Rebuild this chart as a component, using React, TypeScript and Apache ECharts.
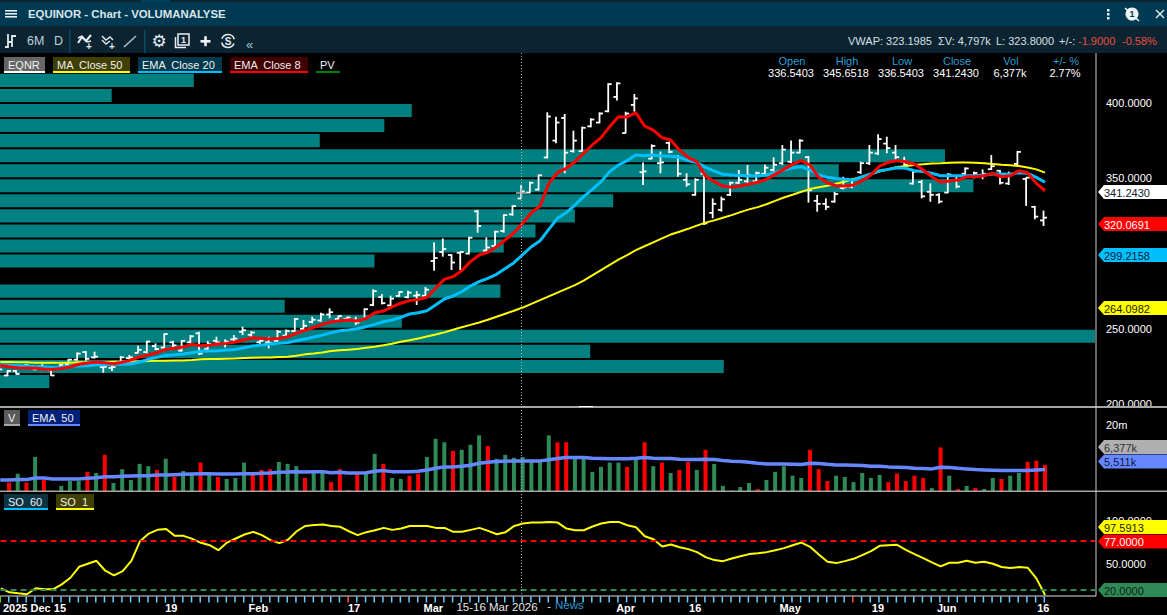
import React, { useEffect, useRef } from "react";
import * as echarts from "echarts";

// Daily bars. Index 0 is the partly visible first session at the left edge.
const opens = [221.5,
  219,222,224,224.5,225,222.5,224.5,226.5,229.5,234.5,
  231,224.5,224,226.5,230.5,234,234.5,238.5,237.5,241,
  235.5,241,247,236.5,242,240,243,248,246,241,
  241,242,245.5,248.5,250,254.5,255.5,259.5,256.5,256.5,
  256,256.5,265.8,271,265.5,271.8,271,272,272,295,
  301,299,300.5,300,328,302,305,315,326,336.5403,
  340.5,342.5,363.8,375,390,368,368,384.5,387,394.5,
  404,380,398.7,354,363,360,373.5,364,349,339,
  353,327,329,339,347,348,348,353,355.5,360,
  361,367,364,335,333,334.5,343.5,344.5,354,360,
  366.5,373,367,361,346.5,347.5,341,339,340.5,349,
  353,351,352,356,355,346.5,359.5,349.5,331,322];
const highs = [224,
  222.5,222.5,226.5,225,226.5,223,226.3,230,234.3,235.2,
  234.8,225.9,225.9,231.9,232.6,238.8,242,240.3,247,242,
  242.5,245.8,248.1,242,244.7,243,245.8,251.4,248.5,243.6,
  244.7,249.2,249.6,257,255.8,258,260.7,263.6,258.7,258,
  258,263.6,276.2,273,272,275,275.3,275,277.7,307.4,
  310,299.5,301.2,311.2,328.9,310.7,315.2,326,332,345.6518,
  347.7,352.4,393.8,390.9,392.7,381.6,384.3,389.8,393.8,413.1,
  413.7,394.2,406,360.4,372.5,367.7,374.3,365.4,353.3,350,
  354.4,336.6,337.8,347.7,355.5,358.8,354.4,359.2,363.9,372.1,
  375,375.9,364.8,338.9,336.6,341,351,349.9,361,372.1,
  379.2,377.6,372.1,364.3,355.5,348.8,346.6,340,353.3,351,
  357.2,354.4,355.9,365.4,355.5,354.4,368.1,350.6,331.6,328.5];
const lows = [221,
  218.5,219.5,223.5,222.5,222.6,218.6,224.3,226,228.8,228.8,
  230.3,220.8,221.9,226,229.2,233.7,233.7,235.9,237,237.6,
  234.8,240.3,232.5,235.9,239.2,237.6,241.4,245.8,244.7,239.2,
  237,241.4,244.7,248,249.2,253.6,254.7,257,255.8,255.8,
  252.5,255.8,265.1,266.2,264.7,271.3,270.2,265.8,271.5,288.6,
  297.9,289,289,299.4,313.8,301.2,304.5,313.8,325.1,336.5403,
  340,341.8,363.2,373.2,353.3,367,367.7,383.8,386.5,393.8,
  401.6,379.8,394.2,345.5,362.6,353.3,366.6,351,344.4,338.4,
  318.9,323.4,327.8,338.2,346.2,346.6,346.6,352.2,354.4,358.8,
  359.9,366.6,333.8,327.8,328.9,333.8,342.6,343.3,352.8,358.8,
  365.4,366.6,362.6,357.7,345.9,336.6,334.4,333.3,340,343.3,
  352.2,349.9,349.3,355.5,345.9,345.5,358.8,331.6,322.7,318.3];
const closes = [223,
  222,220,226,223,223.5,219,226,229.5,233.5,230,
  231.5,224.7,224.5,231,231,236,241.5,236.5,246.5,239,
  242,245,233.5,240,241,241.5,243.5,249,247.5,242,
  240.5,248,248.5,256.5,252,256,259.5,261,258.5,257.5,
  254,263,275,267,270,274.5,274,272.5,276,297,
  303,294,301,310.5,318.3,304,314.5,325.5,331.5,341.243,
  347,352,391,387,367,375,383.5,389,393,412.5,
  413,393,403,354.5,371.5,360.5,367.5,353,346,349,
  320,333,336,347,349,352,353.5,357,359,369,
  367,375,342,333,331,339.5,344,345.5,360,367,
  376,370,364,359,354.4,338,339,334.5,352.5,344.5,
  356.5,353.5,353,358,347,352,367.5,350.4,324.5,323.8];

const volumes = [null,
  2560,3520,2560,6370,2810,1915,2270,2700,2700,3750,
  3600,6890,2520,4130,2810,4990,4590,4020,5990,3120,
  3870,3520,5220,3360,3120,2910,3020,5220,3360,4020,
  4130,5350,4990,4590,3020,3750,3600,2600,4130,1960,
  3750,3520,7130,4990,3020,2910,3270,3520,6370,12200,
  10800,7950,8250,9880,13800,9470,5990,6890,6180,6377,
  5760,5350,13800,10800,10800,6180,5990,3750,4480,5220,
  5220,4480,5760,10800,4590,5220,3600,4020,5350,4020,
  8250,4990,2270,1915,2180,2520,2030,2810,3750,4590,
  3270,3020,8250,4130,2700,3270,3120,2600,3600,3020,
  3360,2600,3520,2700,3270,3020,2100,8980,3270,2030,
  2270,2100,2030,3020,2910,3270,3600,5350,5590,4810];
// 1 = red session in the volume panel, 0 = green
const volumeDown = [0,
  1,0,1,0,1,0,0,0,0,1,
  0,1,0,0,0,0,0,1,0,1,
  0,0,1,0,1,0,0,0,1,1,
  1,0,0,0,1,0,0,1,1,1,
  1,0,0,1,0,0,1,1,0,0,
  0,1,0,0,0,1,0,0,0,0,
  0,0,0,1,1,0,0,0,0,0,
  0,1,0,1,0,1,0,1,1,0,
  1,0,0,0,0,0,1,0,0,0,
  0,0,1,1,1,0,0,0,0,0,
  0,1,1,1,1,1,0,1,0,1,
  0,1,0,0,1,0,0,1,1,1];

const ema8 = [225.6,
  224.8,224.1,223.9,223.7,223.2,223,223.7,224.6,226.4,227.2,
  227.9,227.5,226.8,227.7,229.2,231.4,232.6,234.1,236.3,237,
  237.9,239.6,238.8,239,239.9,240.3,241.2,242.7,244,243.6,
  243.2,243.6,244.7,247,248.9,251,252.9,254.5,255.4,255.8,
  255.2,256.9,260.7,261.8,264.5,267,268.7,269.5,270.9,276.9,
  282.8,284.6,288.6,294.6,299,300.8,304.5,309,313.8,320.0691,
  327.1,331.6,346.6,353.7,356.6,361,366.6,372.1,377,384.3,
  390.9,390.7,393.6,384.7,382,377,375.4,368.8,363.9,361,
  351.5,347.7,344.8,344,344.8,346.2,347.3,349.3,352.6,355.9,
  359.2,361.7,358.8,350.6,347,345,344.8,345.5,348.4,352.2,
  358.1,360.6,361.7,361,359.5,355.5,351,347.5,348.2,348.8,
  351,351,351.7,353.3,351,351.7,355,353.7,346.6,341.7];
const ema20 = [225.9,
  225.7,225.5,225.3,224.8,224.6,224.1,224.4,225.3,225.3,225.5,
  226.1,226.1,226.4,226.4,226.6,227.9,229.7,231,232.3,232.8,
  233.2,234.1,235,235.2,235.4,235.9,236.3,237.4,238.5,239.2,
  239.9,240.3,240.8,242.1,243.2,244.5,245.8,247.4,248.7,249.2,
  250,251.4,252.9,254.7,255.8,257.6,259.8,260.7,262,265.8,
  269.8,271.8,274.6,278.4,281.3,283.5,286.2,290,293.9,299.2158,
  304.5,308.5,316,323.4,327.1,332.2,337.8,342.6,347.7,354.4,
  358.8,361.7,365.4,365,365.4,364.8,364.6,363.9,361.7,360.4,
  357.2,354.8,352.6,352.2,351.9,351.5,351.5,352.2,353.7,355.5,
  357,357.7,355.5,352.2,350.6,349.9,349.3,348.8,351,352.8,
  355,355.9,357,356.6,355,354.4,353.3,351.7,351.7,351.7,
  351.7,351.9,352.2,352.8,352.8,352.6,353.7,353.3,350.6,347.3];
const ma50 = [228,
  227.9,227.8,227.7,227.5,227.5,227.5,227.5,227.5,227.7,227.7,
  227.9,227.9,228.1,228.1,228.3,228.3,228.6,228.8,228.8,229,
  229,229.2,229.7,229.9,229.9,230.1,230.3,230.6,230.8,231,
  231,231.2,231.4,232.1,233,233.6,234.3,235.2,235.7,236.1,
  236.5,237.4,238.1,239,240.1,241.4,242.4,243.6,244.9,246.2,
  247.6,249.3,251,252.6,254.2,256,258,260,262,264.0982,
  266.5,269,271.5,274,276.5,279,282,285.5,289,292.5,
  296,299,302.3,304.8,307.4,310,312.6,314.5,316.4,318.5,
  320.5,322,323.8,325.5,327.5,329.3,330.8,332.7,335,337.2,
  339,341,342.8,344,345,346.3,347.8,349.5,351,352.8,
  354.5,356,357.5,358.2,358.8,359.3,359.8,360,360.3,360.4,
  360.4,360.3,360,359.5,359,358.7,358.1,357.2,355.9,353.7];
const volumeEma = [2810,
  2810,2843,2843,3015,3015,2910,2910,2910,2910,2980,
  3050,3160,3160,3198,3235,3270,3270,3350,3350,3390,
  3430,3470,3510,3510,3470,3470,3470,3510,3510,3553,
  3595,3685,3730,3780,3730,3780,3780,3640,3685,3595,
  3595,3640,3825,3920,3780,3780,3780,3825,4020,4270,
  4480,4480,4590,4760,5100,5290,5420,5490,5550,5511,
  5550,5550,5760,6040,6260,6260,6260,6110,6040,5970,
  5970,5970,6110,6260,6110,6040,6040,5900,5830,5830,
  5900,5830,5620,5490,5420,5290,5100,4980,4980,4980,
  4920,4860,5100,5040,4920,4810,4810,4760,4700,4590,
  4590,4480,4430,4380,4270,4220,4170,4430,4380,4270,
  4170,4070,4020,3970,3920,3920,3920,3920,4020,4070];
const stochastic = [21.9,
  17.3,16.1,15,22,20.8,20.8,26.6,34.3,47.1,50.6,
  54.1,42.5,37,42,54.1,77,85.9,90.2,91.3,83.2,
  83.2,79.7,75.1,72.3,66.5,75.4,80.1,84.8,87.9,84,
  78.2,74.7,78.6,88.6,94.8,96,96.4,94.8,93.7,88.6,
  84,87.5,89.8,92.5,90.2,91.7,94.8,94.8,94.8,92.5,
  92.5,87.9,87.9,90.2,92.5,89,85.1,87.5,94.8,97.5913,
  98.7,98.7,99.5,98.7,91.7,89.8,89.8,94.1,97.6,99.5,
  99.5,95.6,93.3,82.8,79.3,70.8,73.1,70,67.7,64.2,
  58.4,54.9,53.7,56.8,59.5,61.9,63,64.2,66.5,68.9,
  72.3,75.4,70.4,61.5,53,51.4,53.7,56.4,60.7,65.4,
  71.6,72.3,72.7,66.9,61.9,57.2,52.2,47.5,51.8,51.8,
  54.1,51.8,53,50.6,46.8,45.6,46.8,46,33.6,14.2];

// Volume profile: price bins (centre) and share of the longest bin, percent
const profilePrices = [415,405,395,385,375,365,355,345,335,325,315,305,295,285,275,265,255,245,235,225,215];
const profileShares = [17.7,10.2,37.6,35.1,29.2,86.3,76.6,88.9,56,52.5,48.9,46,34.2,0,45.7,26,36.7,100,53.9,66.1,4.5];

const dateLabelIndex = [3.87,19.6,29.6,40.6,49.7,71.8,79.8,90.7,100.8,108.7,119.8];
const dateLabelText = ["2025 Dec 15","19","Feb","17","Mar","Apr","16","May","19","Jun","16"];
const priceTicks = [200,250,350,400];
const volumeTicks = [20000];
const oscillatorTicks = [50,100];
const flaggedDayTicks: Record<number,string> = { 0: "#7CFC00", 40: "#ff5a4a", 98: "#ff5a4a" };

const FONT = "Liberation Sans";
const X_MIN = -0.034;
const X_MAX = 125.74;
const hiddenX = (gridIndex: number) => ({
  type: "value" as const, gridIndex, min: X_MIN, max: X_MAX, show: false,
});

function t(x: number, y: number, text: string, fill = "#fff", font = `11px ${FONT}`, align = "left", z = 120) {
  return { type: "text", x, y, z, silent: true, style: { text, fill, font, align, verticalAlign: "middle" } };
}
function r(x: number, y: number, width: number, height: number, fill: string, z = 110) {
  return { type: "rect", z, silent: true, shape: { x, y, width, height }, style: { fill } };
}
function pl(points: number[][], stroke = "#dfe9ee", lineWidth = 1.6, z = 120) {
  return { type: "polyline", z, silent: true, shape: { points }, style: { stroke, lineWidth, fill: "none" } };
}
function legendChip(x: number, w: number, y: number, label: string, bg: string, line: string) {
  return [r(x, y, w, 15.5, bg), r(x, y + 14, w, 2, line, 111), t(x + 4, y + 7.5, label, "#f0f0f0", `11px ${FONT}`)];
}
function tag(y: number, label: string, bg: string, fg: string) {
  return [
    { type: "polygon", z: 130, silent: true, shape: { points: [[1098, y], [1104, y - 7], [1167, y - 7], [1167, y + 7], [1104, y + 7]] }, style: { fill: bg } },
    t(1104, y + 0.5, label, fg, `11px ${FONT}`, "left", 131),
  ];
}

function chrome(): any[] {
  const a: any[] = [];
  // title + tool bars
  a.push(r(0, 0, 1167, 2, "#0b2533"), r(141, 0, 29, 2, "#00405a"));
  a.push(r(0, 2, 1167, 24, "#003a52"), r(0, 26, 1167, 27, "#0c2331"));
  a.push(r(5, 10, 12, 1.6, "#e8f0f4"), r(5, 13, 12, 1.6, "#e8f0f4"), r(5, 16, 12, 1.6, "#e8f0f4"));
  a.push(t(28, 13.5, "EQUINOR - Chart - VOLUMANALYSE", "#d8e6ec", `bold 11.4px ${FONT}`));
  // right title icons
  a.push(r(1107, 9, 2.5, 2.5, "#e8f0f4"), r(1107, 13, 2.5, 2.5, "#e8f0f4"), r(1107, 17, 2.5, 2.5, "#e8f0f4"));
  a.push({ type: "circle", z: 120, silent: true, shape: { cx: 1132, cy: 14, r: 6.5 }, style: { fill: "#eef4f6" } });
  a.push(pl([[1125, 8], [1139, 21]], "#eef4f6", 1.6));
  a.push(t(1132, 14, "1", "#003a52", `bold 9px ${FONT}`, "center", 121));
  a.push(pl([[1156, 10], [1164, 18]], "#dfe9ee", 1.5), pl([[1164, 10], [1156, 18]], "#dfe9ee", 1.5));
  // tool bar icons
  a.push(pl([[5, 47], [8, 47], [8, 34], [8, 42], [12, 42], [12, 36], [16, 36], [12, 36], [12, 47]], "#dfe9ee", 1.8));
  a.push(t(27, 41, "6M", "#b9d2de", `12.5px ${FONT}`), t(54, 41, "D", "#b9d2de", `12.5px ${FONT}`));
  a.push(r(69, 30, 1.5, 23, "#0a4a68", 115), r(144, 30, 1.5, 23, "#0a4a68", 115));
  a.push(pl([[78, 43], [82, 37], [86, 41], [91, 35]], "#e6eef2", 2), pl([[78, 38], [82, 36], [87, 42], [91, 41]], "#e6eef2", 1.4));
  a.push(t(89, 46, "+", "#e6eef2", `bold 10px ${FONT}`, "center"));
  a.push(pl([[102, 36], [106, 40], [110, 37], [113, 40]], "#dfe9ee", 1.4), pl([[102, 40], [106, 44], [110, 41]], "#dfe9ee", 1.4));
  a.push(t(112, 46, "+", "#e6eef2", `bold 10px ${FONT}`, "center"));
  a.push(pl([[124, 47], [136, 36]], "#aebcc4", 1.6));
  a.push(t(159, 41, "⚙", "#e6eef2", "17px DejaVu Sans", "center"));
  a.push({ type: "rect", z: 120, silent: true, shape: { x: 178, y: 34, width: 11, height: 11 }, style: { fill: "none", stroke: "#e6eef2", lineWidth: 1.5 } });
  a.push(pl([[175.5, 37], [175.5, 47.5], [186, 47.5]], "#e6eef2", 1.5));
  a.push(t(183.5, 39.5, "1", "#e6eef2", `bold 9px ${FONT}`, "center"));
  a.push(r(200.5, 40, 10, 2.6, "#f0f4f6"), r(204.2, 36.2, 2.6, 10, "#f0f4f6"));
  a.push({ type: "arc", z: 120, silent: true, shape: { cx: 228, cy: 41, r: 6.5, startAngle: 0.4, endAngle: 2.9 }, style: { stroke: "#e6eef2", lineWidth: 1.6, fill: "none" } });
  a.push({ type: "arc", z: 120, silent: true, shape: { cx: 228, cy: 41, r: 6.5, startAngle: 3.5, endAngle: 6 }, style: { stroke: "#e6eef2", lineWidth: 1.6, fill: "none" } });
  a.push(t(228, 41.5, "S", "#e6eef2", `bold 10px ${FONT}`, "center"));
  a.push(t(246, 44, "«", "#9fc8de", `13px ${FONT}`));
  a.push(t(848, 41, "VWAP: 323.1985", "#d5e0e6"));
  a.push(t(938, 41, "ΣV: 4,797k", "#d5e0e6"));
  a.push(t(996, 41, "L: 323.8000", "#d5e0e6"));
  a.push(t(1059, 41, "+/-:", "#d5e0e6"));
  a.push(t(1078, 41, "-1.9000", "#e8503f"));
  a.push(t(1122, 41, "-0.58%", "#e8503f"));

  // separators and frame
  a.push(r(0, 406, 1167, 2, "#a6a6a6", 112), r(0, 490.5, 1167, 1.5, "#a6a6a6", 112), r(0, 595.5, 1096, 1, "#e0e0e0", 112));
  a.push(r(1095.5, 53, 1, 543, "#d0d0d0", 112));
  a.push(r(579, 406, 14, 1, "#ffffff", 113));

  // legends
  a.push(...legendChip(4, 41, 57, "EQNR", "#666666", "#ffffff"));
  a.push(...legendChip(53, 77, 57, "MA  Close 50", "#3f3f00", "#ffff00"));
  a.push(...legendChip(138, 84, 57, "EMA  Close 20", "#00394d", "#00bfff"));
  a.push(...legendChip(230, 78, 57, "EMA  Close 8", "#400000", "#ff0000"));
  a.push(...legendChip(316, 24, 57, "PV", "#000000", "#008000"));
  a.push(...legendChip(4, 16, 410, "V", "#5a5a5a", "#a6a6a6"));
  a.push(...legendChip(28, 52, 410, "EMA  50", "#00207a", "#6688ff"));
  a.push(...legendChip(4, 44, 494, "SO  60", "#0a3344", "#00bfff"));
  a.push(...legendChip(56, 38, 494, "SO  1", "#3f3f00", "#ffff00"));

  // value box of the crosshair session
  const heads = ["Open", "High", "Low", "Close", "Vol", "+/- %"];
  const vals = ["336.5403", "345.6518", "336.5403", "341.2430", "6,377k", "2.77%"];
  const cols = [791, 846, 901, 956, 1010, 1065];
  heads.forEach((h, i) => {
    a.push(t(cols[i] + 1, 61, h, "#2a9fd6", `11px ${FONT}`, "center"));
    a.push(t(cols[i], 73, vals[i], "#ffffff", `11px ${FONT}`, "center"));
  });

  // crosshair
  a.push({ type: "line", z: 105, silent: true, shape: { x1: 521.5, y1: 53, x2: 521.5, y2: 596 }, style: { stroke: "#b0b0b0", lineWidth: 1, lineDash: [1, 2] } });
  a.push(pl([[516, 193], [527, 193]], "#b8b8b8", 1.5, 106), pl([[521.5, 189], [521.5, 197]], "#b8b8b8", 1.5, 106));
  a.push(t(497, 606.5, "15-16 Mar 2026", "#e8e8e8", `11.5px ${FONT}`, "center"));
  a.push(t(549, 606, "-", "#e8e8e8", `11px ${FONT}`, "center"));
  a.push(t(555, 605, "News", "#2a9fd6", `11.5px ${FONT}`));

  // value tags
  a.push(...tag(192, "341.2430", "#ffffff", "#102030"));
  a.push(...tag(224, "320.0691", "#ff0000", "#ffffff"));
  a.push(...tag(255, "299.2158", "#00bfff", "#002030"));
  a.push(...tag(308, "264.0982", "#ffff00", "#202000"));
  a.push(...tag(447, "6,377k", "#b0b0b0", "#303030"));
  a.push(...tag(461.5, "5,511k", "#6688ff", "#101840"));
  a.push(...tag(527, "97.5913", "#ffff00", "#202000"));
  a.push(...tag(541.5, "77.0000", "#ff0000", "#ffffff"));
  a.push(...tag(590, "20.0000", "#2e8b57", "#102018"));
  return a;
}

export default function App() {
  const ref = useRef<HTMLDivElement>(null);
  useEffect(() => {
    document.body.style.margin = "0";
    document.body.style.background = "#000";
    const chart = echarts.init(ref.current!, null, { renderer: "svg" });

    const idx = opens.map((_, i) => i);
    const toLine = (arr: number[]) => arr.map((v, i) => [i, v]);

    const option: any = {
      animation: false,
      backgroundColor: "#000",
      textStyle: { fontFamily: FONT },
      grid: [
        { left: 0, top: 53, width: 1095, height: 353 },
        { left: 0, top: 407, width: 1095, height: 84 },
        { left: 0, top: 492, width: 1095, height: 104 },
      ],
      xAxis: [
        hiddenX(0),
        hiddenX(1),
        {
          type: "value", gridIndex: 2, min: X_MIN, max: X_MAX,
          axisLine: { show: false }, axisTick: { show: false }, splitLine: { show: false },
          axisLabel: {
            show: true, customValues: dateLabelIndex, margin: 6, color: "#ffffff",
            fontWeight: "bold", fontSize: 11, fontFamily: FONT, hideOverlap: false,
            showMinLabel: true, showMaxLabel: true,
            formatter: (v: number) => {
              const i = dateLabelIndex.indexOf(v);
              return i >= 0 ? dateLabelText[i] : "";
            },
          },
        },
        { type: "value", gridIndex: 0, min: 0, max: 100, show: false },
      ],
      yAxis: [
        {
          type: "value", gridIndex: 0, position: "right", min: 198.7, max: 433.2,
          splitLine: { show: false }, axisLine: { show: false }, axisTick: { show: false },
          axisLabel: {
            customValues: priceTicks, margin: 11, color: "#ffffff", fontSize: 11, fontFamily: FONT,
            formatter: (v: number) => v.toFixed(4),
          },
        },
        {
          type: "log", gridIndex: 1, position: "right", min: 1893, max: 38022,
          splitLine: { show: false }, axisLine: { show: false }, axisTick: { show: false },
          axisLabel: {
            customValues: volumeTicks, margin: 11, color: "#ffffff", fontSize: 11, fontFamily: FONT,
            formatter: () => "20m",
          },
        },
        {
          type: "value", gridIndex: 2, position: "right", min: 13, max: 134.4,
          splitLine: { show: false }, axisLine: { show: false }, axisTick: { show: false },
          axisLabel: {
            customValues: oscillatorTicks, margin: 11, color: "#ffffff", fontSize: 11, fontFamily: FONT,
            formatter: (v: number) => v.toFixed(4),
          },
        },
      ],
      series: [
        {
          name: "PV", type: "custom", xAxisIndex: 3, yAxisIndex: 0, z: 1, clip: true, silent: true,
          data: profilePrices.map((p, i) => [profileShares[i], p]),
          encode: { x: 0, y: 1 },
          renderItem: (_: any, api: any) => {
            const share = api.value(0);
            const price = api.value(1);
            const tl = api.coord([0, price + 5]);
            const br = api.coord([share, price - 5]);
            return {
              type: "rect",
              shape: { x: tl[0], y: tl[1] + 1, width: br[0] - tl[0], height: br[1] - tl[1] - 2 },
              style: { fill: "#008080" },
            };
          },
        },
        {
          name: "EQNR", type: "custom", xAxisIndex: 0, yAxisIndex: 0, z: 2, clip: true, silent: true,
          data: idx.map((i) => [i, opens[i], highs[i], lows[i], closes[i]]),
          encode: { x: 0, y: [1, 2, 3, 4] },
          renderItem: (_: any, api: any) => {
            const k = api.value(0);
            const o = api.coord([k, api.value(1)]);
            const h = api.coord([k, api.value(2)]);
            const l = api.coord([k, api.value(3)]);
            const c = api.coord([k, api.value(4)]);
            const x = h[0] - 1.5;
            const style = { stroke: "#ffffff", lineWidth: 1.8, fill: "none" };
            return {
              type: "group",
              children: [
                { type: "line", shape: { x1: x, y1: h[1], x2: x, y2: l[1] }, style },
                { type: "line", shape: { x1: x - 3.5, y1: o[1], x2: x, y2: o[1] }, style },
                { type: "line", shape: { x1: x, y1: c[1], x2: x + 3.5, y2: c[1] }, style },
              ],
            };
          },
        },
        {
          name: "MA Close 50", type: "line", xAxisIndex: 0, yAxisIndex: 0, z: 3, showSymbol: false, silent: true,
          data: toLine(ma50), lineStyle: { color: "#ffff00", width: 2 },
        },
        {
          name: "EMA Close 20", type: "line", xAxisIndex: 0, yAxisIndex: 0, z: 4, showSymbol: false, silent: true,
          data: toLine(ema20), lineStyle: { color: "#00bfff", width: 3 },
        },
        {
          name: "EMA Close 8", type: "line", xAxisIndex: 0, yAxisIndex: 0, z: 5, showSymbol: false, silent: true,
          data: toLine(ema8), lineStyle: { color: "#ff0000", width: 3 },
        },
        {
          name: "V", type: "bar", xAxisIndex: 1, yAxisIndex: 1, barWidth: 4, z: 2, silent: true,
          data: idx.filter((i) => volumes[i] != null).map((i) => ({
            value: [i, volumes[i]],
            itemStyle: { color: volumeDown[i] ? "#ff0000" : "#2e8b57" },
          })),
        },
        {
          name: "EMA 50", type: "line", xAxisIndex: 1, yAxisIndex: 1, z: 3, showSymbol: false, silent: true,
          data: toLine(volumeEma), lineStyle: { color: "#6688ff", width: 3.5 },
        },
        {
          name: "SO 1", type: "line", xAxisIndex: 2, yAxisIndex: 2, z: 4, showSymbol: false, silent: true,
          data: toLine(stochastic), lineStyle: { color: "#ffff00", width: 2 },
          markLine: {
            silent: true, symbol: "none", animation: false, label: { show: false },
            data: [
              { yAxis: 77, lineStyle: { color: "#ff0000", type: [6, 4], width: 2 } },
              { yAxis: 20, lineStyle: { color: "#2e8b57", type: [6, 4], width: 2 } },
            ],
          },
        },
        {
          name: "days", type: "custom", xAxisIndex: 2, yAxisIndex: 2, z: 2, clip: false, silent: true,
          data: idx.map((i) => [i, 14]),
          encode: { x: 0, y: 1 },
          renderItem: (_: any, api: any) => {
            const k = api.value(0);
            const p = api.coord([k, 13]);
            return {
              type: "rect",
              shape: { x: p[0] - 1.5, y: p[1] + 0.5, width: 1.5, height: 6 },
              style: { fill: flaggedDayTicks[k] || "#66ccff" },
            };
          },
        },
      ],
      graphic: { elements: chrome() },
    };
    chart.setOption(option);
    return () => chart.dispose();
  }, []);
  return <div ref={ref} style={{ position: "fixed", left: 0, top: 0, width: 1167, height: 615 }} />;
}
